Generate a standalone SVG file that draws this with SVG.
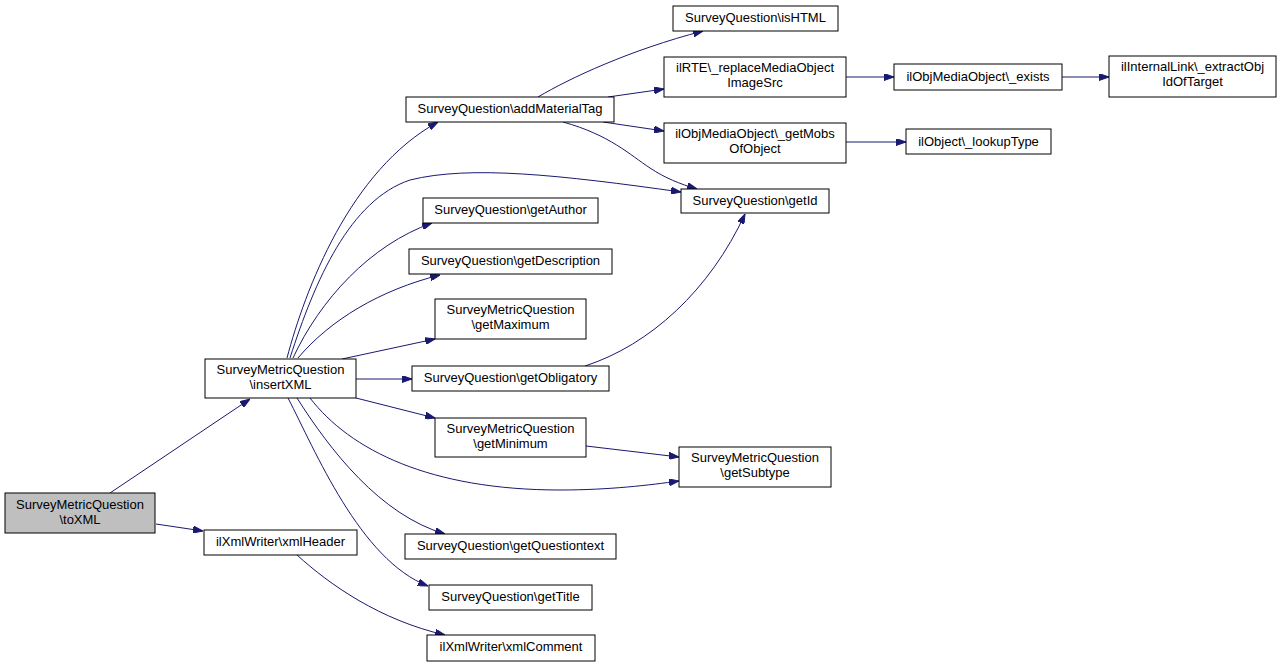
<svg xmlns="http://www.w3.org/2000/svg" width="1281" height="667" viewBox="0 0 1281 667">
<style>
.n rect{fill:#fff;stroke:#000;stroke-width:1}
.n text{font-family:"Liberation Sans",Arial,sans-serif;font-size:13px;text-anchor:middle;fill:#000}
#edges path{fill:none;stroke:#191970;stroke-width:1;marker-end:url(#ah)}
</style>
<defs>
<marker id="ah" viewBox="0 0 10 7" refX="10" refY="3.5" markerWidth="10" markerHeight="7" markerUnits="userSpaceOnUse" orient="auto">
<polygon points="0,0 10,3.5 0,7" fill="#191970" stroke="#191970"/>
</marker>
</defs>
<rect width="1281" height="667" fill="#fff"/>
<g id="edges">
<path d="M110,493 L250,399"/>
<path d="M156,524 L203,531"/>
<path d="M287,358 C305,290 350,170 438,122"/>
<path d="M290,358 C315,280 350,200 410,180 C470,165 560,175 681,192"/>
<path d="M293,358 C320,300 370,245 432,223"/>
<path d="M298,358 C330,320 380,290 440,275"/>
<path d="M342,359 L435,339"/>
<path d="M356,379 L412,379"/>
<path d="M356,398 L435,418"/>
<path d="M310,398 C350,450 430,490 560,490 C610,490 650,485 679,481"/>
<path d="M297,398 C330,450 380,515 445,534"/>
<path d="M288,398 C315,450 360,560 428,586"/>
<path d="M538,97 C570,78 630,50 703,31"/>
<path d="M608,97 L664,89"/>
<path d="M603,122 L664,131"/>
<path d="M563,122 C610,135 630,155 650,168 C665,178 680,184 697,189"/>
<path d="M585,366 C650,345 710,290 745,214"/>
<path d="M586,446 L679,457"/>
<path d="M846,77 L894,77"/>
<path d="M1062,77 L1109,77"/>
<path d="M846,142 L906,142"/>
<path d="M297,555 C330,585 380,620 445,635"/>
</g>
<g id="toXML" class="n"><rect x="5" y="493" width="150" height="40" style="fill:#bfbfbf"/><text x="80" y="509">SurveyMetricQuestion</text><text x="80" y="524">\toXML</text></g>
<g id="insertXML" class="n"><rect x="205" y="359" width="151" height="39"/><text x="280.5" y="374">SurveyMetricQuestion</text><text x="280.5" y="389">\insertXML</text></g>
<g id="xmlHeader" class="n"><rect x="204" y="530" width="153" height="25"/><text x="280.5" y="546">ilXmlWriter\xmlHeader</text></g>
<g id="addMaterialTag" class="n"><rect x="406" y="97" width="208" height="25"/><text x="510" y="113">SurveyQuestion\addMaterialTag</text></g>
<g id="getAuthor" class="n"><rect x="423" y="198" width="175" height="25"/><text x="510.5" y="214">SurveyQuestion\getAuthor</text></g>
<g id="getDescription" class="n"><rect x="409" y="249" width="203" height="25"/><text x="510.5" y="265">SurveyQuestion\getDescription</text></g>
<g id="getMaximum" class="n"><rect x="435" y="299" width="151" height="40"/><text x="510.5" y="314">SurveyMetricQuestion</text><text x="510.5" y="329">\getMaximum</text></g>
<g id="getObligatory" class="n"><rect x="412" y="366" width="197" height="25"/><text x="510.5" y="382">SurveyQuestion\getObligatory</text></g>
<g id="getMinimum" class="n"><rect x="435" y="418" width="151" height="39"/><text x="510.5" y="433">SurveyMetricQuestion</text><text x="510.5" y="448">\getMinimum</text></g>
<g id="getQuestiontext" class="n"><rect x="405" y="534" width="211" height="25"/><text x="510.5" y="550">SurveyQuestion\getQuestiontext</text></g>
<g id="getTitle" class="n"><rect x="429" y="585" width="163" height="25"/><text x="510.5" y="601">SurveyQuestion\getTitle</text></g>
<g id="xmlComment" class="n"><rect x="427" y="635" width="168" height="26"/><text x="511" y="651">ilXmlWriter\xmlComment</text></g>
<g id="isHTML" class="n"><rect x="673" y="6" width="165" height="25"/><text x="755.5" y="22">SurveyQuestion\isHTML</text></g>
<g id="replaceMediaObjectImageSrc" class="n"><rect x="664" y="57" width="182" height="40"/><text x="755" y="72">ilRTE\_replaceMediaObject</text><text x="755" y="87">ImageSrc</text></g>
<g id="getMobsOfObject" class="n"><rect x="664" y="123" width="182" height="40"/><text x="755" y="138">ilObjMediaObject\_getMobs</text><text x="755" y="153">OfObject</text></g>
<g id="getId" class="n"><rect x="681" y="189" width="148" height="24"/><text x="755" y="205">SurveyQuestion\getId</text></g>
<g id="getSubtype" class="n"><rect x="679" y="447" width="152" height="40"/><text x="755" y="462">SurveyMetricQuestion</text><text x="755" y="477">\getSubtype</text></g>
<g id="exists" class="n"><rect x="894" y="64" width="168" height="26"/><text x="978" y="81">ilObjMediaObject\_exists</text></g>
<g id="extractObjIdOfTarget" class="n"><rect x="1109" y="56" width="167" height="41"/><text x="1192.5" y="71">ilInternalLink\_extractObj</text><text x="1192.5" y="86">IdOfTarget</text></g>
<g id="lookupType" class="n"><rect x="906" y="129" width="145" height="25"/><text x="978.5" y="146">ilObject\_lookupType</text></g>
</svg>
